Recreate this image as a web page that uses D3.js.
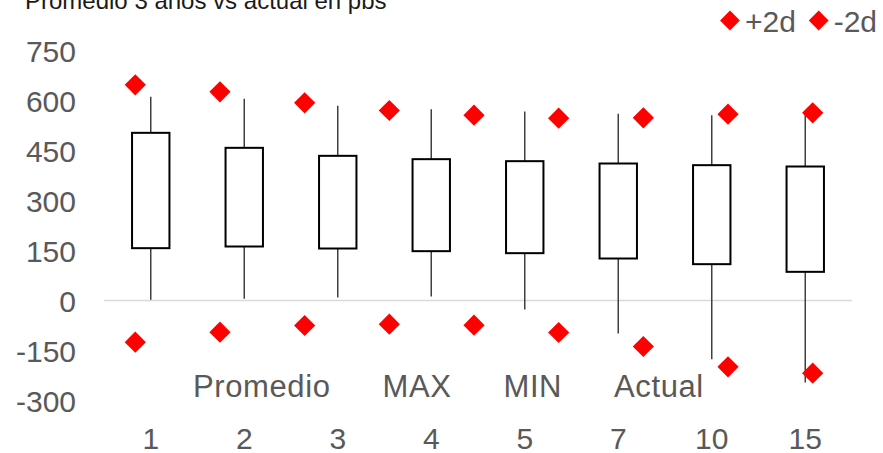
<!DOCTYPE html>
<html>
<head>
<meta charset="utf-8">
<script src="https://cdn.jsdelivr.net/npm/d3@7"></script>
<style>
body { margin: 0; background: #fff; }
svg text { font-family: "Liberation Sans", Arial, sans-serif; }
</style>
</head>
<body>
<div id="chart"></div>
<script>
// categories (plazos en años)
var cats = ["1", "2", "3", "4", "5", "7", "10", "15"];
// velas: Promedio / MAX / MIN / Actual
var boxTop    = [503, 458, 434, 424, 418, 411, 406, 402];
var boxBottom = [157, 162, 156, 148, 142, 126, 109, 86];
var maxVals   = [611, 605, 584, 574, 567, 560, 556, 560];
var minVals   = [2, 5, 9, 12, -27, -99, -176, -246];
// bandas +2d / -2d (eje secundario, 9 puntos)
var bandCats = ["1", "2", "3", "4", "5", "6", "7", "8", "9"];
var plus2d  = [647, 626, 593, 570, 556, 547, 548, 559, 563];
var minus2d = [-125, -95, -75, -71, -74, -96, -138, -199, -218];
var yTicks = [750, 600, 450, 300, 150, 0, -150, -300];
var hiddenLegend = ["Promedio", "MAX", "MIN", "Actual"];

var W = 883, H = 453;
var svg = d3.select("#chart").append("svg")
  .attr("width", W).attr("height", H);

var x = d3.scaleBand().domain(cats).range([104, 852])
  .paddingInner(0.6).paddingOuter(0.3);
var x2 = d3.scalePoint().domain(bandCats).range([135.3, 812.7]);
var y = d3.scaleLinear().domain([-300, 750]).range([400.5, 50.5]);

// title (cut at top like the original)
svg.append("text").attr("x", 25).attr("y", 8.5)
  .style("font-size", "24px").style("fill", "#1a1a1a")
  .text("Promedio 3 años vs actual en pbs");

// y axis labels (plain hyphen for negatives)
var yAxis = d3.axisLeft(y).tickValues(yTicks).tickSize(0).tickPadding(0)
  .tickFormat(function(d) { return String(d); });
var gy = svg.append("g").attr("transform", "translate(76,0)").call(yAxis);
gy.select(".domain").remove();
gy.selectAll("text").style("font-size", "30px").style("fill", "#595959")
  .attr("font-family", null).attr("dy", "0.36em");

// zero line
svg.append("line")
  .attr("x1", 104).attr("x2", 852)
  .attr("y1", y(0)).attr("y2", y(0))
  .style("stroke", "#d9d9d9").style("stroke-width", 1.5);

// x axis labels
var xAxis = d3.axisBottom(x).tickSize(0).tickPadding(0);
var gx = svg.append("g").attr("transform", "translate(0,448.5)").call(xAxis);
gx.select(".domain").remove();
gx.selectAll("text").style("font-size", "30px").style("fill", "#595959")
  .attr("font-family", null).attr("dy", 0).attr("y", 0);

// whiskers
svg.selectAll("line.whisker").data(cats).enter().append("line")
  .attr("class", "whisker")
  .attr("x1", function(d) { return x(d) + x.bandwidth() / 2; })
  .attr("x2", function(d) { return x(d) + x.bandwidth() / 2; })
  .attr("y1", function(d, i) { return y(maxVals[i]); })
  .attr("y2", function(d, i) { return y(minVals[i]); })
  .style("stroke", "#404040").style("stroke-width", 1.5);

// boxes
svg.selectAll("rect.box").data(cats).enter().append("rect")
  .attr("class", "box")
  .attr("x", function(d) { return x(d); })
  .attr("width", x.bandwidth())
  .attr("y", function(d, i) { return y(boxTop[i]); })
  .attr("height", function(d, i) { return y(boxBottom[i]) - y(boxTop[i]); })
  .style("fill", "#fff").style("stroke", "#000").style("stroke-width", 2);

// hidden-series legend (text only, markers invisible)
var lx = 193;
hiddenLegend.forEach(function(t) {
  var tx = svg.append("text").attr("x", lx).attr("y", 396.5)
    .style("font-size", "31px").style("letter-spacing", "0.6px")
    .style("fill", "#595959").text(t);
  lx += tx.node().getComputedTextLength() + 52;
});

// diamonds
var diamond = d3.symbol().type(d3.symbolSquare).size(225);
function drawDiamonds(vals) {
  svg.append("g").selectAll("path").data(vals).enter().append("path")
    .attr("d", diamond)
    .attr("transform", function(d, i) {
      return "translate(" + x2(bandCats[i]) + "," + y(d) + ") rotate(45)";
    })
    .style("fill", "#ff0000");
}
drawDiamonds(plus2d);
drawDiamonds(minus2d);

// legend top-right
var legend = [{name: "+2d", x: 730}, {name: "-2d", x: 818.7}];
legend.forEach(function(l) {
  svg.append("path").attr("d", d3.symbol().type(d3.symbolSquare).size(196))
    .attr("transform", "translate(" + l.x + ",20.5) rotate(45)")
    .style("fill", "#ff0000");
  svg.append("text").attr("x", l.x + 15).attr("y", 31.5)
    .style("font-size", "30px").style("fill", "#595959").text(l.name);
});
</script>
</body>
</html>
